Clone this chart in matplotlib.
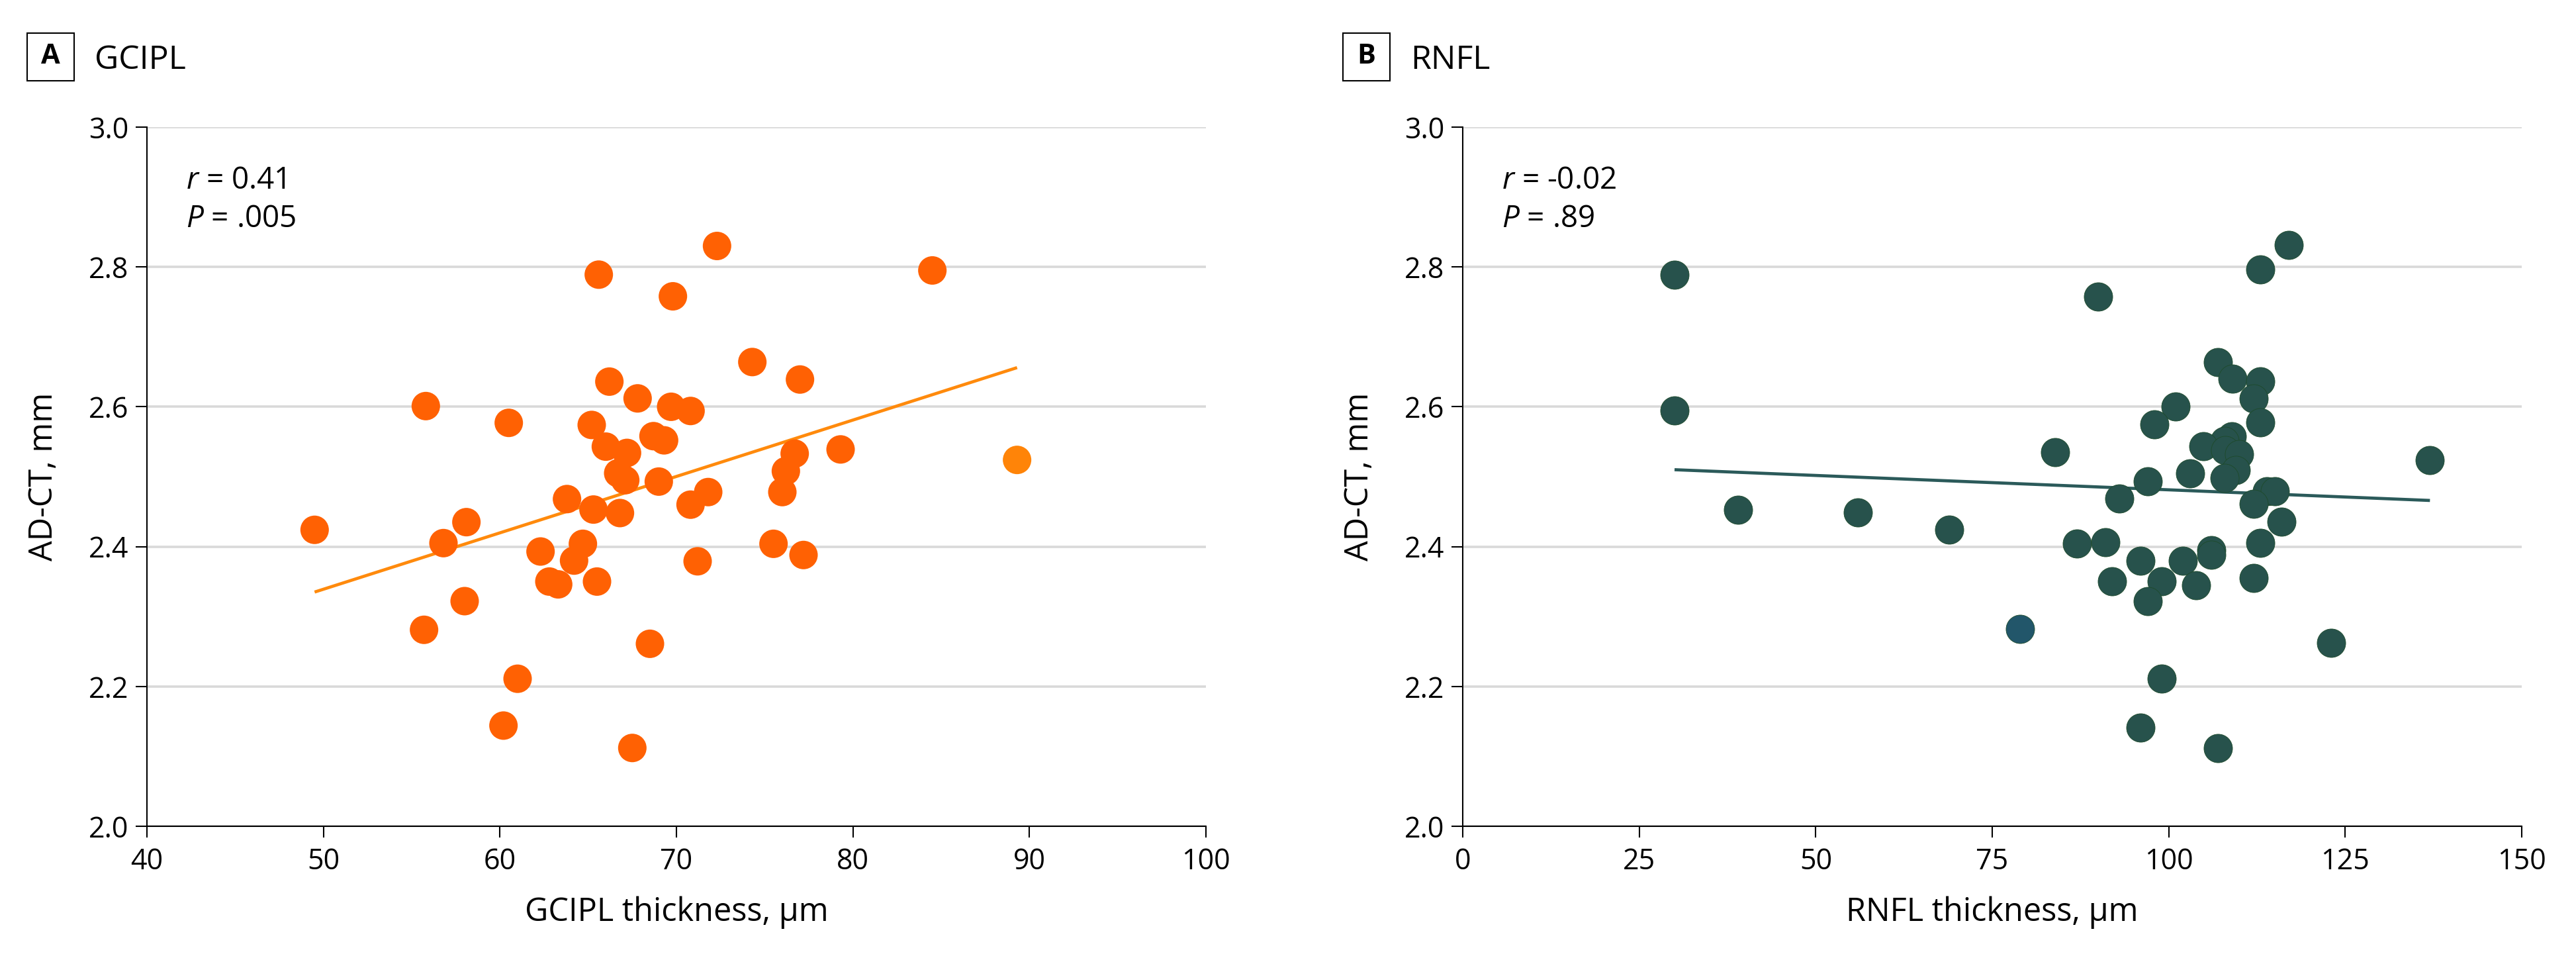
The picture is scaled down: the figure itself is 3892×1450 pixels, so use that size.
import matplotlib
matplotlib.use("Agg")
import matplotlib.pyplot as plt
from matplotlib.patches import Rectangle

# panel A: GCIPL thickness vs AD-CT
gcipl_x = [65.6, 72.3, 69.8, 74.3, 77.0, 55.8, 66.2, 67.8, 69.7, 70.8,
           60.5, 65.2, 68.7, 69.3, 66.0, 67.2, 76.7, 79.3, 76.2, 66.7,
           67.1, 69.0, 76.0, 71.8, 70.8, 63.8, 65.3, 66.8, 58.1, 56.8,
           75.5, 64.7, 62.3, 64.2, 71.2, 77.2, 62.8, 63.3, 65.5, 58.0,
           55.7, 68.5, 61.0, 60.2, 49.5, 67.5, 84.5]
gcipl_y = [2.789, 2.830, 2.758, 2.664, 2.639, 2.601, 2.636, 2.612, 2.600, 2.594,
           2.577, 2.574, 2.558, 2.552, 2.543, 2.534, 2.533, 2.539, 2.508, 2.505,
           2.495, 2.493, 2.478, 2.478, 2.460, 2.468, 2.453, 2.448, 2.435, 2.405,
           2.404, 2.404, 2.393, 2.380, 2.379, 2.388, 2.350, 2.346, 2.350, 2.322,
           2.281, 2.261, 2.211, 2.144, 2.424, 2.112, 2.795]
gcipl_hi_x = [89.3]
gcipl_hi_y = [2.524]
gcipl_fit_x = [49.5, 89.3]
gcipl_fit_y = [2.335, 2.656]

# panel B: RNFL thickness vs AD-CT
rnfl_x = [117.0, 113.0, 90.0, 107.0, 109.0, 113.0, 101.0, 112.0, 98.0, 113.0,
          108.9, 107.9, 104.9, 108.0, 110.0, 83.9, 137.0, 109.5, 103.0, 107.9,
          97.0, 113.9, 115.0, 112.0, 93.0, 116.0, 68.9, 87.0, 91.0, 113.0,
          106.0, 106.0, 96.0, 102.0, 92.0, 99.0, 103.9, 112.0, 97.0, 123.0,
          99.0, 96.0, 107.0, 30.0, 30.0, 39.0, 56.0]
rnfl_y = [2.831, 2.796, 2.758, 2.664, 2.640, 2.636, 2.600, 2.612, 2.575, 2.578,
          2.558, 2.551, 2.544, 2.538, 2.532, 2.535, 2.524, 2.509, 2.505, 2.498,
          2.493, 2.479, 2.479, 2.461, 2.469, 2.436, 2.424, 2.404, 2.406, 2.405,
          2.395, 2.388, 2.380, 2.380, 2.350, 2.350, 2.345, 2.355, 2.322, 2.262,
          2.211, 2.141, 2.112, 2.789, 2.595, 2.453, 2.449]
rnfl_hi_x = [78.9]
rnfl_hi_y = [2.282]
rnfl_fit_x = [30, 137]
rnfl_fit_y = [2.510, 2.466]

y_ticks = [2.0, 2.2, 2.4, 2.6, 2.8, 3.0]
gcipl_ticks = [40, 50, 60, 70, 80, 90, 100]
rnfl_ticks = [0, 25, 50, 75, 100, 125, 150]

family = "Open Sans"
plt.rcParams["font.family"] = [family, "DejaVu Sans"]
plt.rcParams["mathtext.fontset"] = "custom"
plt.rcParams["mathtext.rm"] = family
plt.rcParams["mathtext.it"] = family + ":italic"

W, H = 3892, 1450
fig = plt.figure(figsize=(W / 100, H / 100), dpi=100)


def panel(left, letter, title, xs, ys, hx, hy, fx, fy, xticks, xlabel,
          dot, dot_hi, line, edge, stats):
    ax = fig.add_axes([left / W, (H - 1248) / H, 1600 / W, 1056 / H])
    ax.set_axisbelow(True)
    ax.yaxis.grid(True, color="#d9d9d9", lw=2.6)
    ax.plot(fx, fy, color=line, lw=3.4, zorder=2, solid_capstyle="butt")
    ax.scatter(xs, ys, s=960, color=dot, edgecolors=edge, linewidths=0.6, zorder=3)
    ax.scatter(hx, hy, s=960, color=dot_hi, edgecolors=edge, linewidths=0.6, zorder=3)
    ax.set_xlim(xticks[0], xticks[-1])
    ax.set_ylim(2.0, 3.0)
    ax.set_xticks(xticks)
    ax.set_yticks(y_ticks)
    ax.set_yticklabels([f"{v:.1f}" for v in y_ticks])
    for s in ["top", "right"]:
        ax.spines[s].set_visible(False)
    for s in ["left", "bottom"]:
        ax.spines[s].set_linewidth(1.5)
    ax.tick_params(length=12, width=1.5, labelsize=31)
    ax.tick_params(axis="x", pad=11)
    ax.tick_params(axis="y", pad=8)
    ax.set_xlabel(xlabel, fontsize=35)
    ax.set_ylabel("AD-CT, mm", fontsize=35)
    ax.xaxis.set_label_coords(0.5, -0.100)
    ax.yaxis.set_label_coords(-0.082, 0.5)
    ax.text(59 / 1600, 1 - 93 / 1056, stats[0], transform=ax.transAxes,
            fontsize=33, va="baseline", ha="left")
    ax.text(59 / 1600, 1 - 151 / 1056, stats[1], transform=ax.transAxes,
            fontsize=33, va="baseline", ha="left")
    # boxed panel letter and title
    bx = left - 181
    fig.add_artist(Rectangle((bx / W, (H - 122) / H), 71 / W, 72 / H,
                             transform=fig.transFigure, fill=False,
                             ec="black", lw=1.5))
    fig.text((bx + 35.5) / W, (H - 86) / H, letter, fontsize=30,
             fontweight="bold", ha="center", va="center")
    fig.text((bx + 102) / W, (H - 104) / H, title, fontsize=36,
             ha="left", va="baseline")
    return ax


panel(222, "A", "GCIPL", gcipl_x, gcipl_y, gcipl_hi_x, gcipl_hi_y,
      gcipl_fit_x, gcipl_fit_y, gcipl_ticks, "GCIPL thickness, µm",
      "#ff6103", "#ff8408", "#ff8a0c", "none",
      [r"$\mathit{r}$ = 0.41", r"$\mathit{P}$ = .005"])
panel(2210, "B", "RNFL", rnfl_x, rnfl_y, rnfl_hi_x, rnfl_hi_y,
      rnfl_fit_x, rnfl_fit_y, rnfl_ticks, "RNFL thickness, µm",
      "#27524c", "#22566a", "#2b5a5a", "#1d4a2a",
      [r"$\mathit{r}$ = -0.02", r"$\mathit{P}$ = .89"])

fig.savefig("out.png", dpi=100, facecolor="white")
